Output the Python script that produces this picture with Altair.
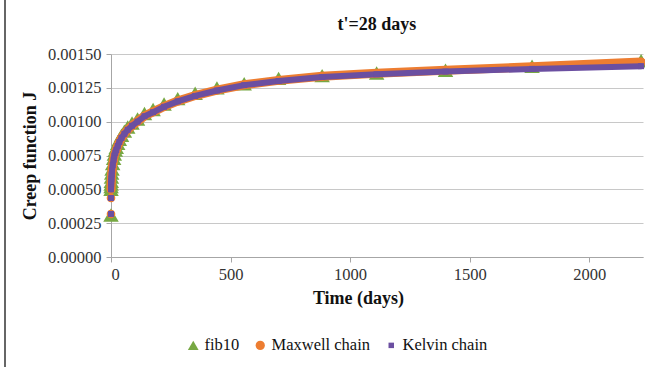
import altair as alt
import pandas as pd

series_names = ["fib10", "Maxwell chain", "Kelvin chain"]
series_colors = ["#77a843", "#ed7d31", "#6b4fa1"]
series_shapes = ["triangle-up", "circle", "square"]

fib_t = [0, 0.1, 0.3, 0.6, 1.1, 1.8, 2.8, 4.4, 7, 11, 14, 18, 22, 28, 35, 44, 56, 70, 88,
         111, 140, 176, 222, 279, 352, 443, 557, 701, 883, 1111, 1399, 1761, 2217]
fib_j = [0.00031, 0.00050, 0.00052, 0.00054, 0.00056, 0.00059, 0.00062, 0.00065, 0.00069,
         0.00073, 0.00076, 0.00079, 0.00081, 0.00084, 0.00087, 0.00090, 0.00093, 0.00096,
         0.00099, 0.00102, 0.00106, 0.00109, 0.00113, 0.00117, 0.00121, 0.00125, 0.00128,
         0.00132, 0.00134, 0.00136, 0.00138, 0.00141, 0.00145]

max_t = [0, 0.01, 0.1, 0.3, 0.6, 1.1, 1.8, 2.8, 4.4, 7, 11, 14, 18, 22, 28, 35, 44, 56, 70, 88,
         111, 140, 176, 222, 279, 352, 443, 557, 701, 883, 1111, 1399, 1761, 2217]
max_j = [0.000318, 0.000436, 0.00050, 0.00052, 0.00054, 0.00056, 0.00058, 0.00061, 0.00064,
         0.00068, 0.00072, 0.00075, 0.00077, 0.00079, 0.00082, 0.00085, 0.00088, 0.00091,
         0.00094, 0.00097, 0.001002, 0.001042, 0.001072, 0.001112, 0.001152, 0.001193,
         0.001233, 0.001273, 0.001305, 0.001336, 0.001358, 0.00138, 0.001405, 0.00144]

kel_t = [0, 0.01, 0.1, 0.3, 0.6, 1.1, 1.8, 2.8, 4.4, 7, 11, 14, 18, 22, 28, 35, 44, 56, 70, 88,
         111, 140, 176, 222, 279, 352, 443, 557, 701, 883, 1111, 1399, 1761, 2217]
kel_j = [0.000318, 0.000436, 0.00050, 0.00052, 0.00054, 0.00056, 0.00058, 0.00061, 0.00064,
         0.00068, 0.00072, 0.00075, 0.00077, 0.00079, 0.00082, 0.00085, 0.00088, 0.00091,
         0.00094, 0.00097, 0.00100, 0.00104, 0.00107, 0.00111, 0.00115, 0.00119, 0.00123,
         0.00127, 0.00130, 0.00133, 0.00135, 0.00137, 0.00139, 0.00141]

x_ticks = [0, 500, 1000, 1500, 2000]
y_ticks = [0.0, 0.00025, 0.0005, 0.00075, 0.001, 0.00125, 0.0015]

rows = []
for name, ts, js in [("fib10", fib_t, fib_j), ("Maxwell chain", max_t, max_j), ("Kelvin chain", kel_t, kel_j)]:
    for t, j in zip(ts, js):
        rows.append({"series": name, "t": t, "J": j})
df = pd.DataFrame(rows)

FONT = "Liberation Serif"

x_enc = alt.X("t:Q", scale=alt.Scale(domain=[0, 2225], nice=False, zero=False),
              axis=alt.Axis(values=x_ticks, format="d", title="Time (days)", grid=False,
                            titleX=247, titleY=41, titleAlign="center", titleBaseline="middle",
                            labelPadding=4))
y_enc = alt.Y("J:Q", scale=alt.Scale(domain=[0, 0.0015], nice=False),
              axis=alt.Axis(values=y_ticks, format=".5f", title="Creep function J", grid=True,
                            titleX=-81, titleY=101.5, titleAngle=270, titleAlign="center",
                            titleBaseline="middle", labelPadding=5, labelOverlap=False))

legend = alt.Legend(
    orient="none", legendX=74, legendY=283, direction="horizontal", title=None,
    labelFont=FONT, labelFontSize=16.5, labelColor="#111111",
    columnPadding=12, labelOffset=3, symbolStrokeWidth=0,
    symbolSize=alt.ExprRef(
        "datum.value == 'fib10' ? 115 : (datum.value == 'Maxwell chain' ? 85 : 30)"))
color = alt.Color("series:N", scale=alt.Scale(domain=series_names, range=series_colors), legend=legend)
shape = alt.Shape("series:N", scale=alt.Scale(domain=series_names, range=series_shapes))

base = alt.Chart(df)

fib_pts = base.transform_filter(alt.datum.series == "fib10").mark_point(
    filled=True, opacity=1, size=240).encode(x=x_enc, y=y_enc, color=color, shape=shape)

max_line = base.transform_filter(
    (alt.datum.series == "Maxwell chain") & (alt.datum.t >= 0.1)).mark_line(
    color=series_colors[1], strokeWidth=9, strokeCap="round").encode(
    x=x_enc, y=y_enc, order="t:Q")
max_pts = base.transform_filter(alt.datum.series == "Maxwell chain").mark_point(
    filled=True, opacity=1, size=75).encode(x=x_enc, y=y_enc, color=color, shape=shape)

kel_line = base.transform_filter(
    (alt.datum.series == "Kelvin chain") & (alt.datum.t >= 0.1)).mark_line(
    color=series_colors[2], strokeWidth=6, strokeCap="round").encode(
    x=x_enc, y=y_enc, order="t:Q")
kel_pts = base.transform_filter(alt.datum.series == "Kelvin chain").mark_point(
    filled=True, opacity=1, size=36).encode(x=x_enc, y=y_enc, color=color, shape=shape)

border = alt.Chart(pd.DataFrame({"a": [0]})).mark_rule(color="#333333", strokeWidth=1.5).encode(
    x=alt.value(-106), y=alt.value(-54), y2=alt.value(320))

chart = alt.layer(fib_pts, max_line, max_pts, kel_line, kel_pts, border).properties(
    width=532, height=203,
    title=alt.TitleParams("t'=28 days", font=FONT, fontSize=18, fontWeight="bold",
                          color="#111111", anchor="middle", offset=0, baseline="alphabetic", dy=49),
    autosize=alt.AutoSizeParams(type="none"),
    padding={"left": 111, "top": 54, "right": 2, "bottom": 110},
    background="white",
).configure_view(stroke=None).configure_axis(
    domainColor="#a6a6a6", tickColor="#a6a6a6", tickSize=5, gridColor="#c8c8c8",
    labelFont=FONT, labelFontSize=16.5, labelColor="#333333",
    titleFont=FONT, titleFontSize=18, titleFontWeight="bold", titleColor="#111111",
)

chart.save("out.html", embed_options={"renderer": "svg", "actions": False})
